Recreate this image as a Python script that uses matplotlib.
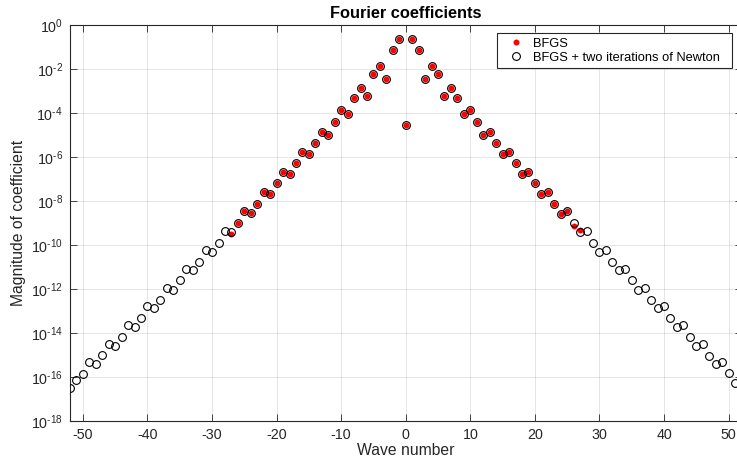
import matplotlib
matplotlib.use("Agg")
import matplotlib.pyplot as plt
import numpy as np
from matplotlib.ticker import FixedLocator, FixedFormatter, NullLocator

plt.rcParams["font.family"] = ["Liberation Sans", "DejaVu Sans"]
plt.rcParams["mathtext.fontset"] = "custom"
plt.rcParams["mathtext.rm"] = "Liberation Sans"
plt.rcParams["mathtext.it"] = "Liberation Sans:italic"
plt.rcParams["mathtext.bf"] = "Liberation Sans:bold"

# wave numbers and coefficient magnitudes
newton_k = np.arange(-52, 53)
newton_mag = [
    # k = -52 .. -1
    3.24e-17, 7.08e-17, 1.32e-16, 4.57e-16, 3.72e-16, 9.33e-16, 3.16e-15, 2.63e-15,
    6.61e-15, 2.24e-14, 1.86e-14, 4.57e-14, 1.62e-13, 1.32e-13, 3.24e-13, 1.10e-12,
    9.33e-13, 2.45e-12, 7.76e-12, 7.08e-12, 1.74e-11, 6.17e-11, 5.01e-11, 1.20e-10,
    4.47e-10, 3.80e-10, 9.55e-10, 3.39e-9, 2.75e-9, 7.59e-9, 2.63e-8, 2.14e-8,
    6.61e-8, 2.09e-7, 1.74e-7, 5.13e-7, 1.62e-6, 1.38e-6, 4.37e-6, 1.41e-5,
    1.00e-5, 4.07e-5, 1.41e-4, 8.71e-5, 4.68e-4, 1.38e-3, 5.89e-4, 5.89e-3,
    1.41e-2, 3.55e-3, 7.59e-2, 2.40e-1,
    # k = 0
    2.75e-5,
    # k = 1 .. 52
    2.40e-1, 7.59e-2, 3.55e-3, 1.41e-2, 5.89e-3, 5.89e-4, 1.38e-3, 4.68e-4,
    8.71e-5, 1.41e-4, 4.07e-5, 1.00e-5, 1.41e-5, 4.37e-6, 1.32e-6, 1.62e-6,
    5.13e-7, 1.74e-7, 2.09e-7, 6.61e-8, 2.14e-8, 2.63e-8, 7.59e-9, 2.63e-9,
    3.39e-9, 9.55e-10, 3.80e-10, 4.47e-10, 1.20e-10, 5.01e-11, 6.17e-11, 1.74e-11,
    7.08e-12, 7.76e-12, 2.45e-12, 9.33e-13, 1.10e-12, 3.24e-13, 1.32e-13, 1.62e-13,
    4.57e-14, 1.86e-14, 2.24e-14, 6.31e-15, 2.63e-15, 3.16e-15, 8.91e-16, 3.72e-16,
    4.57e-16, 1.41e-16, 5.37e-17, 3.24e-17,
]

bfgs_k = np.arange(-27, 28)
bfgs_mag = [
    # k = -27 .. -1
    3.24e-10, 1.00e-9, 3.39e-9, 2.75e-9, 7.59e-9, 2.63e-8, 2.14e-8, 6.61e-8,
    2.09e-7, 1.74e-7, 5.13e-7, 1.62e-6, 1.38e-6, 4.37e-6, 1.41e-5, 1.00e-5,
    4.07e-5, 1.41e-4, 8.71e-5, 4.68e-4, 1.38e-3, 5.89e-4, 5.89e-3, 1.41e-2,
    3.55e-3, 7.59e-2, 2.40e-1,
    # k = 0
    2.75e-5,
    # k = 1 .. 27
    2.40e-1, 7.59e-2, 3.55e-3, 1.41e-2, 5.89e-3, 5.89e-4, 1.38e-3, 4.68e-4,
    8.71e-5, 1.41e-4, 4.07e-5, 1.00e-5, 1.41e-5, 4.37e-6, 1.32e-6, 1.62e-6,
    5.13e-7, 1.74e-7, 2.09e-7, 6.61e-8, 2.14e-8, 2.63e-8, 7.59e-9, 2.63e-9,
    3.39e-9, 7.59e-10, 5.01e-10,
]

x_ticks = [-50, -40, -30, -20, -10, 0, 10, 20, 30, 40, 50]
y_exponents = [0, -2, -4, -6, -8, -10, -12, -14, -16, -18]

dark = "#262626"

fig = plt.figure(figsize=(7.37, 4.63), dpi=100)
# the right edge of the box runs just past the picture, as in the reference
ax = fig.add_axes([70 / 737, 42.3 / 463, 671.5 / 737, 395.4 / 463])

ax.semilogy(bfgs_k, bfgs_mag, "o", color="red", markersize=4.3,
            markeredgewidth=0, label="BFGS", zorder=3)
ax.semilogy(newton_k, newton_mag, "o", markerfacecolor="none",
            markeredgecolor="black", markersize=5.6, markeredgewidth=0.8,
            label="BFGS + two iterations of Newton", zorder=4)

ax.set_xlim(-52, 52)
ax.set_ylim(1e-18, 1)
ax.xaxis.set_major_locator(FixedLocator(x_ticks))
ax.set_xticklabels([str(t) for t in x_ticks])
ax.yaxis.set_major_locator(FixedLocator([10.0 ** e for e in y_exponents]))
# hyphen instead of the wider math minus, like the original labels
ax.yaxis.set_major_formatter(FixedFormatter(
    [r"$\mathregular{10^{%s}}$" % (r"\text{-}%d" % -e if e < 0 else "0")
     for e in y_exponents]))
ax.yaxis.set_minor_locator(NullLocator())
ax.xaxis.set_minor_locator(NullLocator())

ax.set_axisbelow(True)
ax.grid(True, color=dark, alpha=0.12, linewidth=0.7)
for s in ax.spines.values():
    s.set_color(dark)
    s.set_linewidth(0.8)
ax.tick_params(direction="in", length=5, width=0.6, top=True, right=True,
               colors=dark, labelsize=10.3, pad=5)

ax.set_xlabel("Wave number", fontsize=11.3, color=dark, labelpad=1)
ax.set_ylabel("Magnitude of coefficient", fontsize=11.3, color=dark)
ax.yaxis.set_label_coords(-0.0655, 0.5)
ax.set_title("Fourier coefficients", fontsize=11.8, fontweight="bold", pad=5)

leg = ax.legend(loc="upper left", bbox_to_anchor=(0.6354, 0.0, 0.3509, 0.9798),
                mode="expand", borderaxespad=0, fontsize=9.3, borderpad=0.35,
                handlelength=2.3, handletextpad=0.2, labelspacing=0.15,
                fancybox=False, framealpha=1, edgecolor=dark)
leg.get_frame().set_linewidth(0.8)

fig.savefig("out.png", dpi=100)
